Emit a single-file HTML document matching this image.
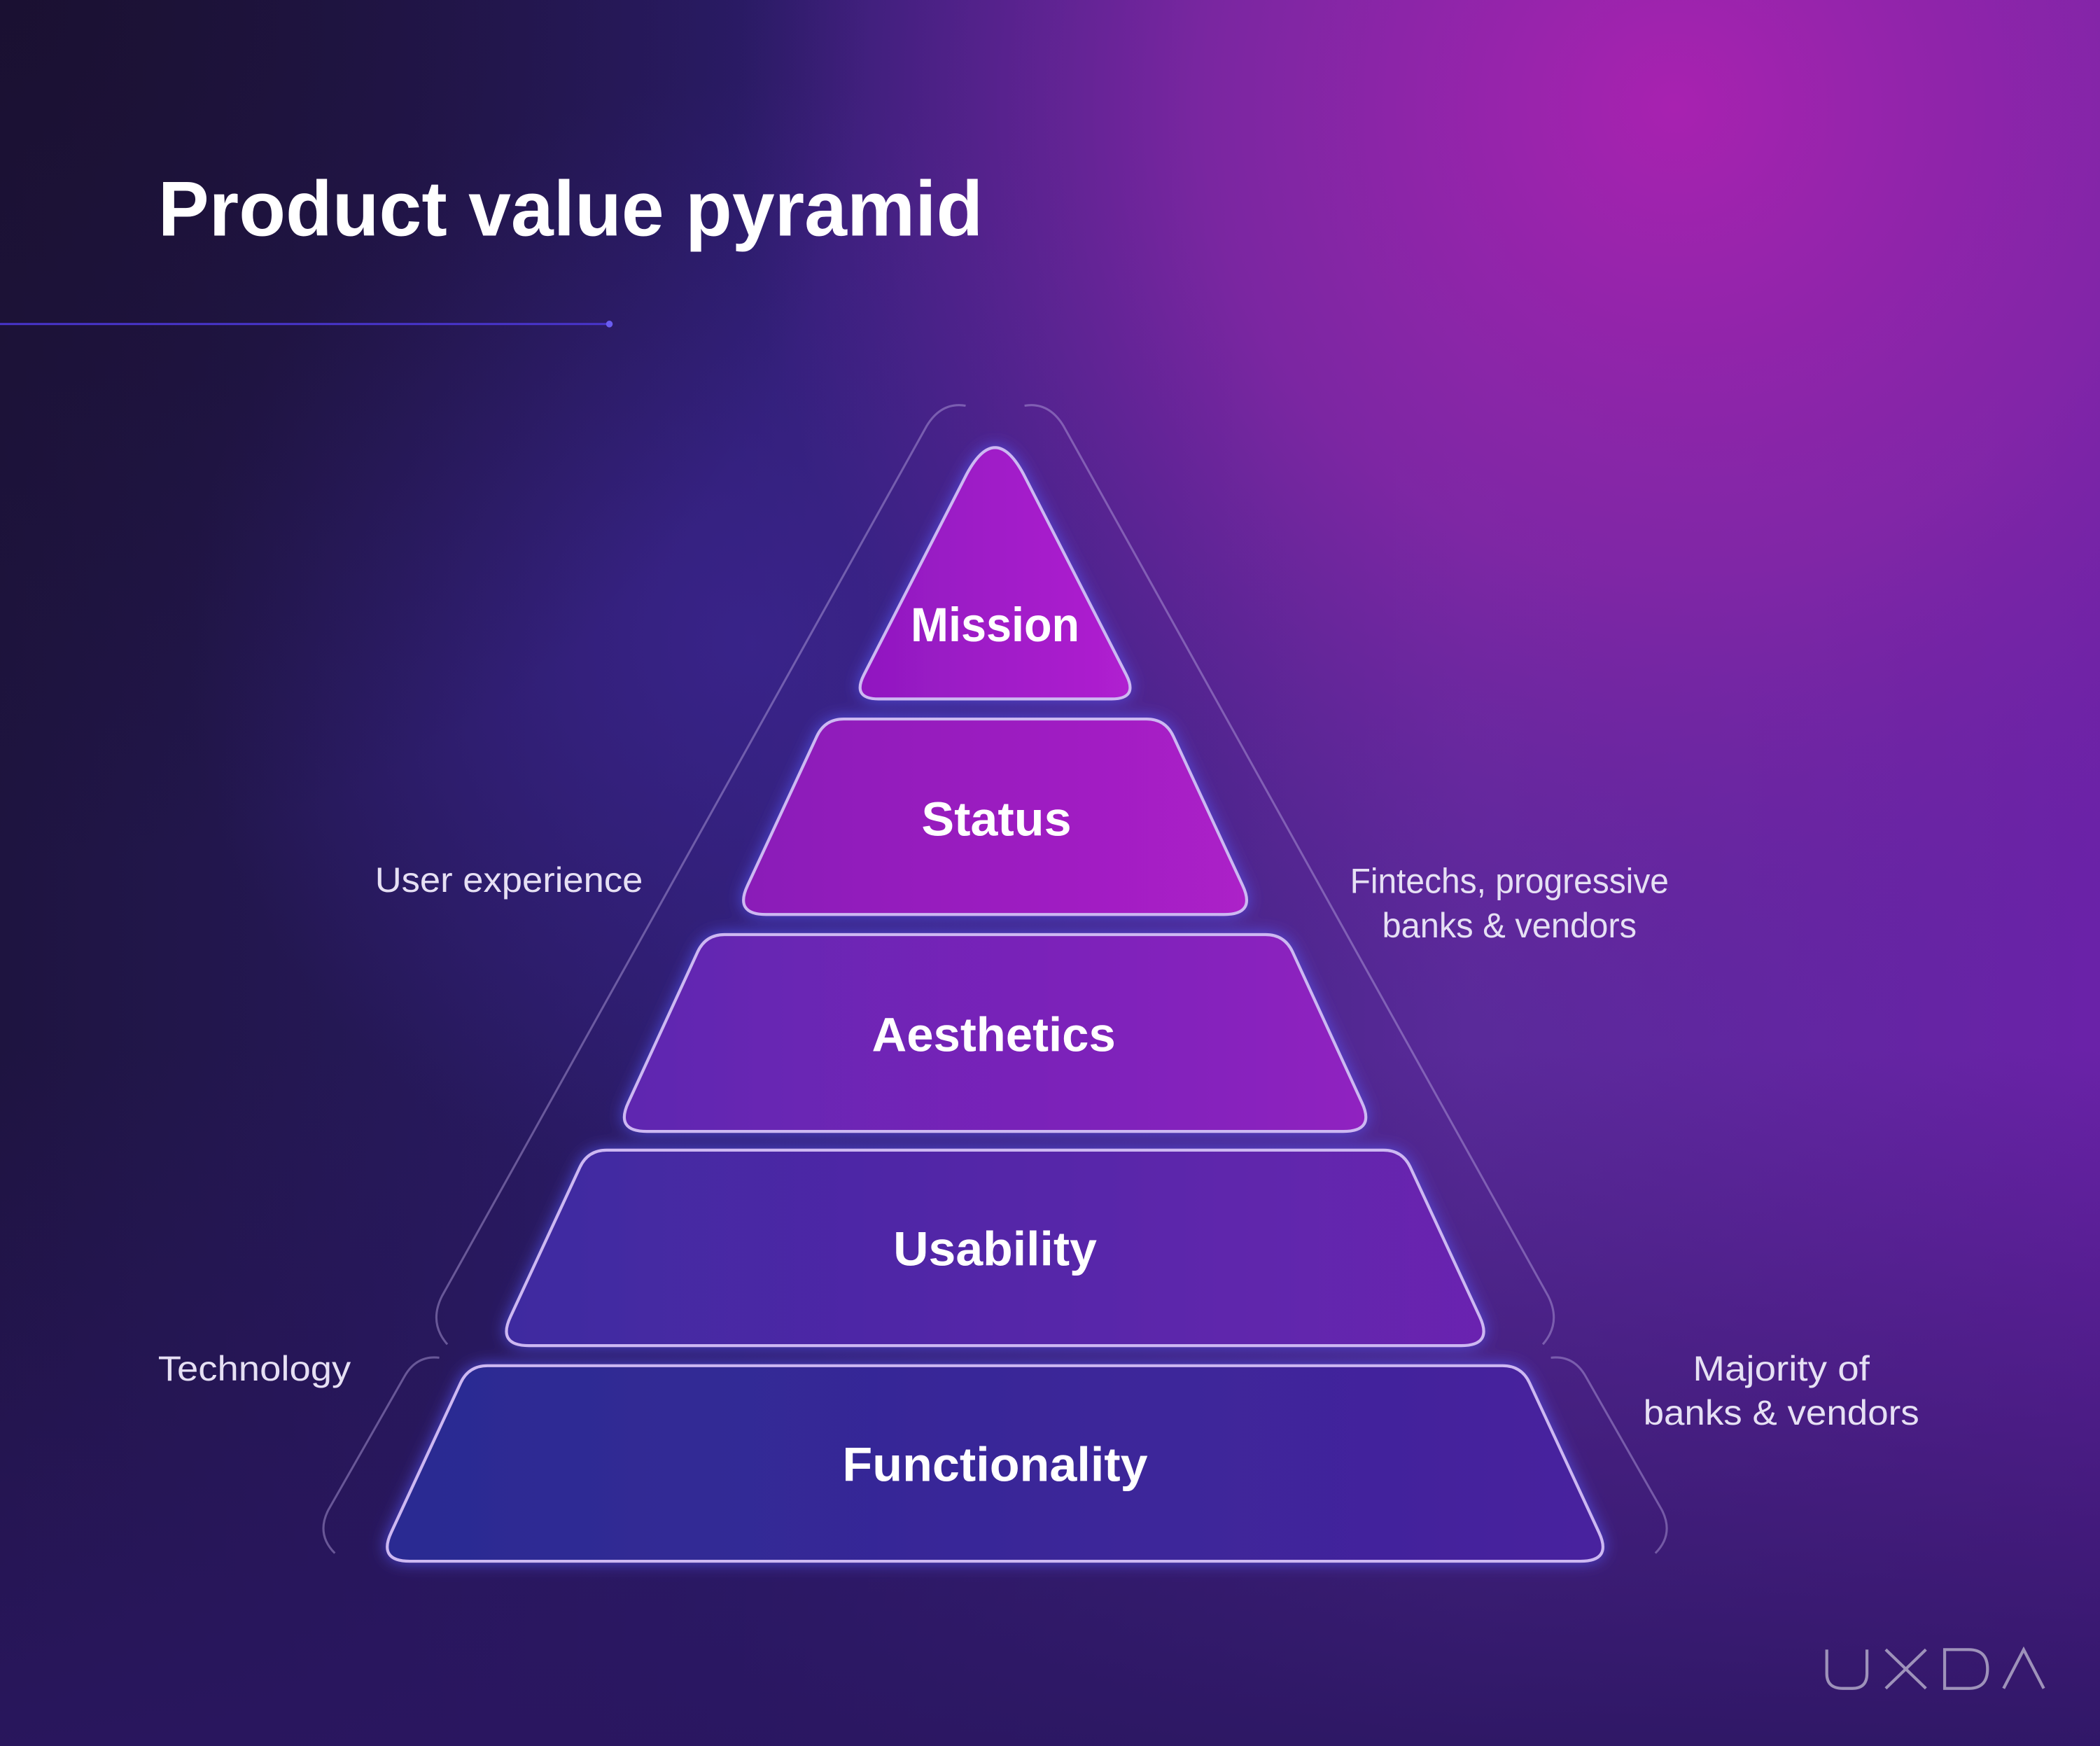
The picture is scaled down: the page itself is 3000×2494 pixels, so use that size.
<!DOCTYPE html>
<html><head><meta charset="utf-8">
<style>
html,body{margin:0;padding:0;background:#1c1436;}
svg{display:block}
text{font-family:"Liberation Sans",sans-serif}
</style></head>
<body>
<svg width="3000" height="2494" viewBox="0 0 1568 1304" preserveAspectRatio="none" xmlns="http://www.w3.org/2000/svg">
<defs>
<linearGradient id="bg" x1="0" y1="0" x2="1" y2="0">
<stop offset="0" stop-color="#1e1440"/><stop offset="0.35" stop-color="#2c1c6c"/><stop offset="0.7" stop-color="#5a2a9a"/><stop offset="1" stop-color="#6a22a8"/>
</linearGradient>
<radialGradient id="mag" cx="1250" cy="80" r="700" gradientUnits="userSpaceOnUse">
<stop offset="0" stop-color="#a822b0" stop-opacity="1"/><stop offset="0.5" stop-color="#8a26a8" stop-opacity="0.75"/><stop offset="1" stop-color="#6a22a0" stop-opacity="0"/>
</radialGradient>
<radialGradient id="blu" cx="560" cy="480" r="420" gradientUnits="userSpaceOnUse">
<stop offset="0" stop-color="#3c2590" stop-opacity="0.8"/><stop offset="1" stop-color="#3c2590" stop-opacity="0"/>
</radialGradient>
<radialGradient id="dark" cx="0" cy="0" r="650" gradientUnits="userSpaceOnUse">
<stop offset="0" stop-color="#1a1030" stop-opacity="0.9"/><stop offset="1" stop-color="#1a1030" stop-opacity="0"/>
</radialGradient>
<linearGradient id="bot" x1="0" y1="0" x2="0" y2="1">
<stop offset="0.6" stop-color="#2a1560" stop-opacity="0"/><stop offset="1" stop-color="#2a1660" stop-opacity="0.9"/>
</linearGradient>
<linearGradient id="gM" x1="0" y1="0" x2="1" y2="0"><stop offset="0" stop-color="#9018c0"/><stop offset="1" stop-color="#b020d0"/></linearGradient>
<linearGradient id="gS" x1="0" y1="0" x2="1" y2="0"><stop offset="0" stop-color="#8a1cb8"/><stop offset="1" stop-color="#ac20c8"/></linearGradient>
<linearGradient id="gA" x1="0" y1="0" x2="1" y2="0"><stop offset="0" stop-color="#5e26b0"/><stop offset="1" stop-color="#9022c0"/></linearGradient>
<linearGradient id="gU" x1="0" y1="0" x2="1" y2="0"><stop offset="0" stop-color="#3e2aa0"/><stop offset="1" stop-color="#6a24b0"/></linearGradient>
<linearGradient id="gF" x1="0" y1="0" x2="1" y2="0"><stop offset="0" stop-color="#2a2c92"/><stop offset="1" stop-color="#48229e"/></linearGradient>
<filter id="glow" x="-20%" y="-30%" width="140%" height="160%">
<feGaussianBlur in="SourceAlpha" stdDeviation="6" result="b"/>
<feFlood flood-color="#5a5cff" flood-opacity="0.7"/><feComposite in2="b" operator="in" result="g"/>
<feMerge><feMergeNode in="g"/><feMergeNode in="SourceGraphic"/></feMerge>
</filter>
</defs>
<rect width="1568" height="1304" fill="url(#bg)"/>
<rect width="1568" height="1304" fill="url(#blu)"/>
<rect width="1568" height="1304" fill="url(#mag)"/>
<rect width="1568" height="1304" fill="url(#dark)"/>
<rect width="1568" height="1304" fill="url(#bot)"/>

<text x="118" y="176" font-size="58" font-weight="bold" fill="#fff" textLength="616" lengthAdjust="spacingAndGlyphs">Product value pyramid</text>
<line x1="0" y1="242" x2="455" y2="242" stroke="#4a36d0" stroke-width="1.5"/>
<circle cx="455" cy="242" r="2.5" fill="#6a5cf0"/>

<g fill="none" stroke="#b9a6e0" stroke-opacity="0.45" stroke-width="1.6">
<path d="M721 303 Q703 300 692 318 L330 968 Q320 988 334 1004"/>
<path d="M765 303 Q783 300 794 318 L1156 968 Q1166 988 1152 1004"/>
<path d="M328 1014 Q311 1012 302 1028 L245 1128 Q236 1146 250 1160"/>
<path d="M1158 1014 Q1175 1012 1184 1028 L1241 1128 Q1250 1146 1236 1160"/>
</g>

<g stroke="#cdb8f2" stroke-width="2.2" filter="url(#glow)">
<path fill="url(#gF)" d="M364 1020 L1122 1020 Q1136 1020 1142 1032.7 L1193.8 1144.3 Q1204 1166 1180 1166 L306 1166 Q282 1166 292.2 1144.3 L344 1032.7 Q350 1020 364 1020Z"/>
<path fill="url(#gU)" d="M453 859 L1033 859 Q1047 859 1053 871.7 L1104.8 983.3 Q1115 1005 1091 1005 L395 1005 Q371 1005 381.2 983.3 L433 871.7 Q439 859 453 859Z"/>
<path fill="url(#gA)" d="M541 698 L945 698 Q959 698 965 710.7 L1016.8 823.3 Q1027 845 1003 845 L483 845 Q459 845 469.2 823.3 L521 710.7 Q527 698 541 698Z"/>
<path fill="url(#gS)" d="M630 537 L856 537 Q870 537 876 549.7 L927.8 661.3 Q938 683 914 683 L572 683 Q548 683 558.2 661.3 L610 549.7 Q616 537 630 537Z"/>
<path fill="url(#gM)" d="M720.5 356.6 Q743 312 765.5 356.6 L841 504.1 Q850 522 830 522 L656 522 Q636 522 645 504.1Z"/>
</g>

<g fill="#fff" font-weight="bold" font-size="36">
<text x="680" y="479" textLength="126" lengthAdjust="spacingAndGlyphs">Mission</text>
<text x="688" y="624" textLength="112" lengthAdjust="spacingAndGlyphs">Status</text>
<text x="651" y="785" textLength="182" lengthAdjust="spacingAndGlyphs">Aesthetics</text>
<text x="667" y="945" textLength="152" lengthAdjust="spacingAndGlyphs">Usability</text>
<text x="629" y="1106" textLength="228" lengthAdjust="spacingAndGlyphs">Functionality</text>
</g>

<g fill="#e6e0f4" font-size="26">
<text x="280" y="666" textLength="200" lengthAdjust="spacingAndGlyphs">User experience</text>
<text x="1008" y="667" textLength="238" lengthAdjust="spacingAndGlyphs">Fintechs, progressive</text>
<text x="1032" y="700" textLength="190" lengthAdjust="spacingAndGlyphs">banks &amp; vendors</text>
<text x="118" y="1031" textLength="144" lengthAdjust="spacingAndGlyphs">Technology</text>
<text x="1264" y="1031" textLength="132" lengthAdjust="spacingAndGlyphs">Majority of</text>
<text x="1227" y="1064" textLength="206" lengthAdjust="spacingAndGlyphs">banks &amp; vendors</text>
</g>

<g fill="none" stroke="#b0a8c8" stroke-width="2.2" stroke-opacity="0.85">
<path d="M1364 1232 L1364 1250 Q1364 1261 1376 1261 L1383 1261 Q1394 1261 1394 1250 L1394 1232"/>
<path d="M1408 1232 L1438 1261 M1438 1232 L1408 1261"/>
<path d="M1452 1232 L1470 1232 Q1484 1232 1484 1246.5 Q1484 1261 1470 1261 L1452 1261 Z"/>
<path d="M1496 1261 L1511 1232 L1526 1261"/>
</g>
</svg>
</body></html>
